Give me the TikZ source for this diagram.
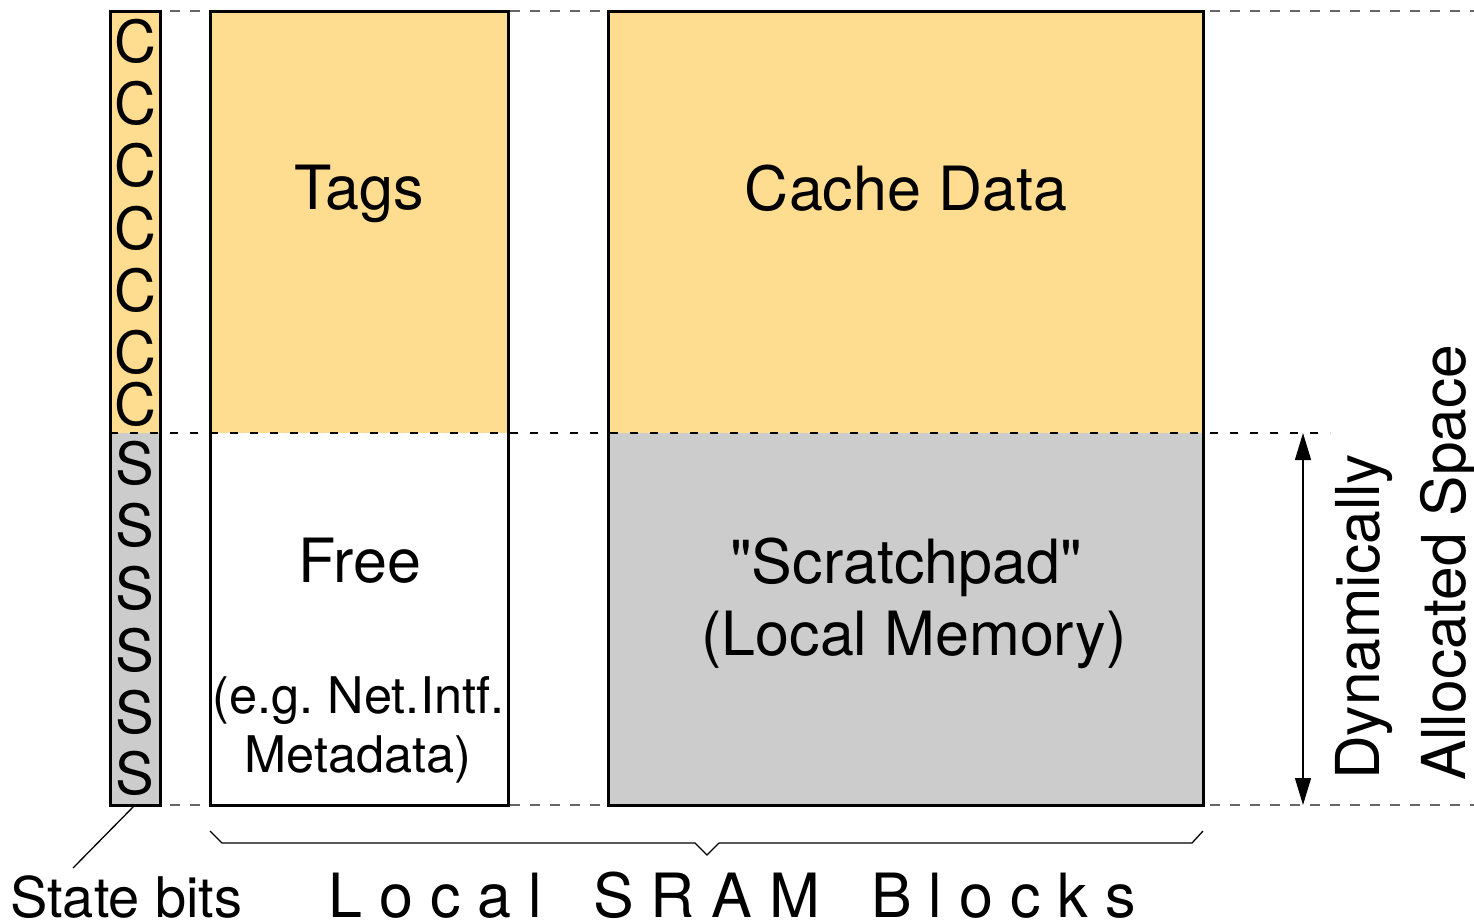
\documentclass[tikz,border=0pt]{standalone}
\usepackage{fontspec}
\setmainfont{TeX Gyre Heros}
% same face without the TeX quote ligatures, for straight quotes
\newfontfamily\plainheros{TeX Gyre Heros}
\usetikzlibrary{arrows.meta}
\definecolor{cachey}{RGB}{255,221,144}
\definecolor{scratchg}{RGB}{204,204,204}
\definecolor{guide}{RGB}{102,102,102}

\begin{document}
\frenchspacing
\begin{tikzpicture}[x=1pt,y=-1pt,
  fillbox/.style={inner sep=0pt, outer sep=0pt, draw=none, anchor=north west},
  frame/.style={line width=3pt, draw=black},
  guideline/.style={draw=guide, line width=2pt, dash pattern=on 10pt off 10pt},
  splitline/.style={draw=black, line width=1.3pt, dash pattern=on 8pt off 12pt},
  thin/.style={draw=black, line width=1.3pt},
  bigtxt/.style={font=\fontsize{61}{72}\selectfont, inner sep=0pt, anchor=base},
  bittxt/.style={font=\fontsize{58}{70}\selectfont, inner sep=0pt, anchor=base},
  midtxt/.style={font=\fontsize{50.5}{60}\selectfont, inner sep=0pt, anchor=base},
  sidetxt/.style={font=\fontsize{60.5}{72}\selectfont, inner sep=0pt, rotate=90, anchor=base west},
  rangearrow/.style={thin, >={Triangle[length=27pt,width=16pt]}, <->}
]
\useasboundingbox (0,0) rectangle (1474,922);

% guide lines at the top and bottom of the blocks
\draw[guideline] (110,11) -- (1474,11);
\draw[guideline] (110,805) -- (1474,805);

% block fills
\node[fillbox, fill=cachey,   minimum width=50pt,  minimum height=422pt] (cbits)   at (110,11)  {};
\node[fillbox, fill=scratchg, minimum width=50pt,  minimum height=372pt] (sbits)   at (110,433) {};
\node[fillbox, fill=cachey,   minimum width=298pt, minimum height=422pt] (tags)    at (210,11)  {};
\node[fillbox, fill=white,    minimum width=298pt, minimum height=372pt] (free)    at (210,433) {};
\node[fillbox, fill=cachey,   minimum width=595pt, minimum height=422pt] (cache)   at (608,11)  {};
\node[fillbox, fill=scratchg, minimum width=595pt, minimum height=372pt] (scratch) at (608,433) {};

% block outlines
\draw[frame] (cbits.north west) rectangle (sbits.south east);
\draw[frame] (tags.north west) rectangle (free.south east);
\draw[frame] (cache.north west) rectangle (scratch.south east);

% split between cache and scratchpad use
\coordinate (splitL) at (110,433);
\coordinate (splitR) at (1330,433);
\draw[splitline] (splitL) -- (splitR);

% state bits
\foreach \b [count=\i] in {62.5,124.5,186.5,249.5,311.5,373.5,425.5}
  \node[bittxt] (c\i) at (135,\b) {C};
\foreach \b [count=\i] in {484.5,546.5,609.5,671.5,733.5,794.5}
  \node[bittxt] (s\i) at (135,\b) {S};

% block labels
\node[bigtxt] (tagslbl)  at (359,209) {Tags};
\node[bigtxt] (cachelbl) at (906,210) {Cache Data};
\node[bigtxt] (freelbl)  at (360,582) {Free};
\node[midtxt] (eglbl)    at (358.5,713) {(e.g. Net.Intf.};
\node[midtxt] (metalbl)  at (358,772) {Metadata)};
\node[bigtxt] (scrlbl)   at (906,583) {\plainheros "Scratchpad"};
\node[bigtxt] (locallbl) at (914,655) {(Local Memory)};

% dynamically allocated range
\coordinate (dyntop) at (1303,433);
\coordinate (dynbot) at (1303,805);
\draw[rangearrow] (dyntop) -- (dynbot);
\node[sidetxt] (dynlbl)   at (1379,780) {Dynamically};
\node[sidetxt] (alloclbl) at (1465,781) {Allocated Space};

% brace under the SRAM blocks
\coordinate (braceL) at (210,831);
\coordinate (braceR) at (1203,831);
\draw[thin, line join=miter] (braceL) -- (222,843) -- (695,843) -- (707,855) -- (719,843) -- (1192,843) -- (braceR);
\node[font=\fontsize{61}{72}\selectfont, inner sep=0pt, anchor=base west] (sramlbl) at (328.5,917) {L o c a l\ \ \ S R A M\ \ \ B l o c k s};

% state bits callout
\coordinate (leadend) at (73,868);
\draw[thin] (sbits.south) -- (leadend);
\node[font=\fontsize{56}{66}\selectfont, inner sep=0pt, anchor=base west] (statelbl) at (10,917) {State bits};
\end{tikzpicture}
\end{document}
